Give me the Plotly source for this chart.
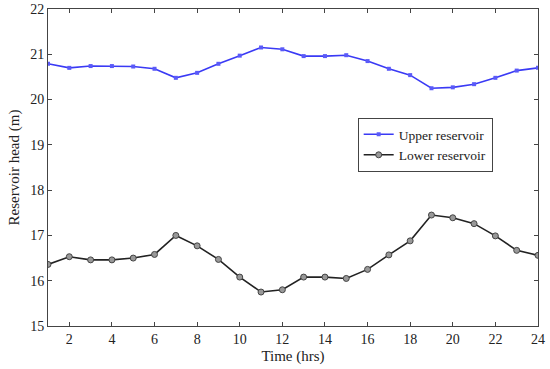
import plotly.graph_objects as go

hours = list(range(1, 25))
upper = [20.79, 20.70, 20.74, 20.74, 20.73, 20.68, 20.48, 20.59, 20.79, 20.97, 21.15, 21.11,
         20.96, 20.96, 20.98, 20.85, 20.68, 20.54, 20.25, 20.27, 20.34, 20.48, 20.64, 20.70]
lower = [16.36, 16.53, 16.46, 16.46, 16.50, 16.58, 17.00, 16.77, 16.47, 16.08, 15.75, 15.80,
         16.08, 16.08, 16.05, 16.25, 16.57, 16.88, 17.45, 17.39, 17.26, 16.99, 16.67, 16.56]
x_ticks = list(range(2, 25, 2))
y_ticks = list(range(15, 23))

fig = go.Figure()
fig.add_trace(go.Scatter(x=hours, y=upper, mode="lines+markers", name="Upper reservoir",
                         line=dict(color="#3a3af5", width=1.6),
                         marker=dict(symbol="square", size=4, color="#5a5af8")))
fig.add_trace(go.Scatter(x=hours, y=lower, mode="lines+markers", name="Lower reservoir",
                         line=dict(color="#222222", width=1.6),
                         marker=dict(symbol="circle", size=6, color="#999999",
                                     line=dict(color="#444444", width=1))))

font = dict(family="Liberation Serif, Times New Roman, serif", color="#222222")
axis_common = dict(showline=True, linecolor="#444444", linewidth=1, mirror="ticks",
                   ticks="inside", ticklen=4, tickcolor="#444444", showgrid=False,
                   zeroline=False, tickfont=dict(size=14, **font), automargin=False)
fig.update_xaxes(range=[1, 24], tickvals=x_ticks,
                 title=dict(text="Time (hrs)", font=dict(size=15, **font), standoff=4),
                 **axis_common)
fig.update_yaxes(range=[15, 22], tickvals=y_ticks,
                 title=dict(text="Reservoir head (m)", font=dict(size=15, **font), standoff=6),
                 **axis_common)
fig.update_layout(width=550, height=369, margin=dict(l=48, r=12, t=9, b=43),
                  plot_bgcolor="white", paper_bgcolor="white", font=font,
                  legend=dict(x=0.632, y=0.571, xanchor="left", yanchor="middle",
                              bgcolor="white", bordercolor="#444444", borderwidth=1,
                              font=dict(size=13.5, **font), tracegroupgap=0,
                              itemwidth=30))
fig.write_html("out.html", config={"displayModeBar": False},
               post_script="document.body.style.margin='0';document.body.style.overflow='hidden';")
